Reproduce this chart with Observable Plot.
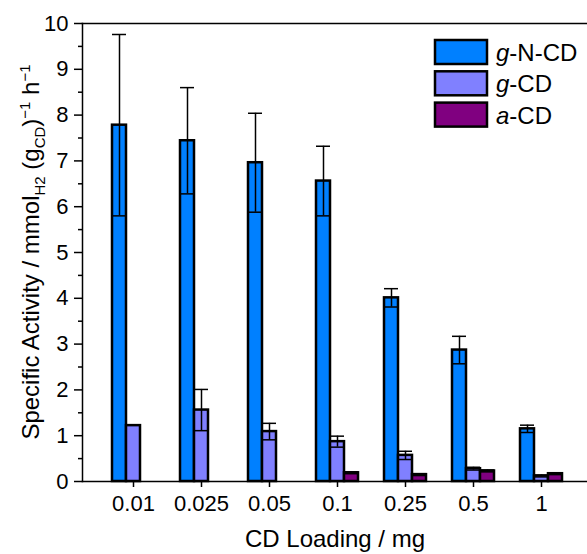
<!DOCTYPE html>
<html><head><meta charset="utf-8">
<script src="https://cdn.jsdelivr.net/npm/d3@7"></script>
<script src="https://cdn.jsdelivr.net/npm/@observablehq/plot@0.6"></script>
<style>
body{margin:0;background:#fff}
svg{font-family:"Liberation Sans",Arial,sans-serif}
</style>
</head><body><div id="chart"></div>
<script>
// ---- data ----
const categories = ["0.01","0.025","0.05","0.1","0.25","0.5","1"];
const seriesNames = ["g-N-CD","g-CD","a-CD"];
const seriesColors = ["#0080FF","#8080FF","#800080"];
const gNCD    = [7.78, 7.44, 6.96, 6.56, 4.01, 2.87, 1.15];
const gNCDerr = [1.98, 1.16, 1.08, 0.76, 0.20, 0.30, 0.08];
const gCD     = [1.22, 1.56, 1.09, 0.87, 0.57, 0.28, 0.12];
const gCDerr  = [0.00, 0.45, 0.18, 0.12, 0.09, 0.03, 0.02];
const aCD     = [null, null, null, 0.19, 0.15, 0.23, 0.17];
const aCDerr  = [null, null, null, 0.02, 0.02, 0.02, 0.02];
const yTicks = [0,1,2,3,4,5,6,7,8,9,10];
const yMinorTicks = [0.5,1.5,2.5,3.5,4.5,5.5,6.5,7.5,8.5,9.5];
const xTitle = "CD Loading / mg";

const values = [gNCD, gCD, aCD];
const errors = [gNCDerr, gCDerr, aCDerr];
const rows = [];
seriesNames.forEach((s, i) => categories.forEach((c, j) => {
  if (values[i][j] != null) rows.push({cat: c, series: s, idx: i, v: values[i][j], e: errors[i][j]});
}));

// ---- layout ----
const W = 587, H = 554;
const step = 68, barW = 14, capW = 14;
const inset = (step - barW) / 2;
const capInset = (step - capW) / 2;

const marks = [];
seriesNames.forEach((s, i) => {
  const d = rows.filter(r => r.idx === i);
  marks.push(Plot.barY(d, {x: "cat", y: "v", fill: seriesColors[i], stroke: "black", strokeWidth: 2.5,
    insetLeft: inset, insetRight: inset, dx: (i - 1) * barW}));
});
seriesNames.forEach((s, i) => {
  const d = rows.filter(r => r.idx === i && r.e > 0);
  const dx = (i - 1) * barW;
  marks.push(Plot.ruleX(d, {x: "cat", y1: r => r.v - r.e, y2: r => r.v + r.e, dx, stroke: "black", strokeWidth: 1.5}));
  marks.push(Plot.tickY(d, {x: "cat", y: r => r.v + r.e, dx, insetLeft: capInset, insetRight: capInset, stroke: "black", strokeWidth: 1.5}));
  marks.push(Plot.tickY(d, {x: "cat", y: r => r.v - r.e, dx, insetLeft: capInset, insetRight: capInset, stroke: "black", strokeWidth: 1.5}));
});

const chart = Plot.plot({
  width: W, height: H,
  marginLeft: 82, marginRight: 0, marginTop: 23, marginBottom: 73,
  style: {fontSize: "22px", fontFamily: '"Liberation Sans", Arial, sans-serif', color: "black", background: "white"},
  x: {type: "band", domain: categories, range: [99, 575], padding: 0, round: false},
  y: {domain: [0, 10]},
  marks: [
    ...marks,
    Plot.axisY({ticks: yTicks, tickSize: 8, tickPadding: 6, label: null, fontSize: 22, strokeWidth: 1.5}),
    Plot.axisY({ticks: yMinorTicks, tickSize: 4, tickFormat: () => "", label: null, strokeWidth: 1.5}),
    Plot.axisX({tickSize: 6, tickPadding: 8, label: null, fontSize: 22, strokeWidth: 1.5}),
    Plot.frame({anchor: "left", stroke: "black", strokeWidth: 1.5}),
    Plot.frame({anchor: "top", stroke: "black", strokeWidth: 1.5}),
    Plot.frame({anchor: "bottom", stroke: "black", strokeWidth: 1.5})
  ]
});
document.getElementById("chart").appendChild(chart);

const svg = d3.select(chart);
// x title
svg.append("text").attr("x", 335).attr("y", 547).attr("text-anchor", "middle")
  .attr("font-size", 24).attr("fill", "black").text(xTitle);

// y title with sub/superscripts
const yt = svg.append("text").attr("transform", "translate(39,252) rotate(-90)")
  .attr("text-anchor", "middle").attr("font-size", 24).attr("fill", "black");
const parts = [
  ["Specific Activity / mmol", 0, 24],
  ["H2", 6, 15],
  [" (g", -6, 24],
  ["CD", 6, 15],
  [")", -6, 24],
  ["\u22121", -9, 15],
  [" h", 9, 24],
  ["\u22121", -9, 15]
];
parts.forEach(([t, dy, fs]) => yt.append("tspan").attr("dy", dy).attr("font-size", fs).text(t));

// legend
const lg = svg.append("g").attr("text-anchor", "start");
seriesNames.forEach((s, i) => {
  const cy = 52 + i * 31.3;
  lg.append("rect").attr("x", 435).attr("y", cy - 12).attr("width", 52).attr("height", 24)
    .attr("fill", seriesColors[i]).attr("stroke", "black").attr("stroke-width", 2.5);
  const k = s.indexOf("-");
  const tx = lg.append("text").attr("x", 496).attr("y", cy + 9).attr("text-anchor", "start")
    .attr("font-size", 24).attr("fill", "black");
  tx.append("tspan").attr("font-style", "italic").text(s.slice(0, k));
  tx.append("tspan").text(s.slice(k));
});
</script>
</body></html>
